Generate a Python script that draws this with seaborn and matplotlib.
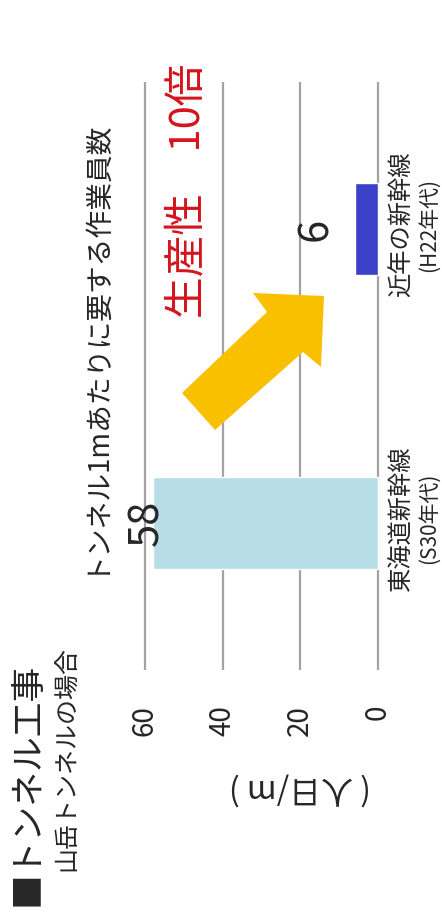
import matplotlib
matplotlib.use('Agg')
import matplotlib.pyplot as plt
from matplotlib.patches import Polygon
from matplotlib.transforms import blended_transform_factory
import pandas as pd
import seaborn as sns

# data (bottom to top in the rotated picture)
categories = ['東海道新幹線', '近年の新幹線']
eras = ['(S30年代)', '(H22年代)']
workers = [58, 6]
bar_colors = ['#b7dee6', '#3a40c8']
x_ticks = [0, 20, 40, 60]

sns.set_style('white')
plt.rcParams['font.family'] = ['Noto Sans CJK JP', 'DejaVu Sans']

df = pd.DataFrame({'cat': categories, 'val': workers})

fig = plt.figure(figsize=(4.42, 9.21), dpi=100)
ax = fig.add_axes([0.3192, 0.2725, 0.5449, 0.6384])

sns.barplot(data=df, x='val', y='cat', hue='cat', palette=bar_colors,
            orient='h', width=0.313, legend=False, saturation=1, ax=ax)

ax.set_xlim(61, -1)
ax.set_ylim(-0.5, 1.5)
ax.set_xticks(x_ticks)
ax.set_xticklabels([str(t) for t in x_ticks])
ax.set_yticks([])
ax.set_xlabel('')
ax.set_ylabel('')
ax.tick_params(axis='x', length=0, labelsize=20, labelrotation=90, pad=25)
for s in ax.spines.values():
    s.set_visible(False)
ax.xaxis.grid(True, color='#a3a3a3', linewidth=1.6)
ax.set_axisbelow(True)

# value labels
label_offsets = [-4.5, -28]
for i, (v, dx) in enumerate(zip(workers, label_offsets)):
    ax.annotate(str(v), xy=(v, i), xytext=(dx, 0), textcoords='offset points',
                rotation=90, ha='center', va='center', fontsize=30)

# category labels on the right side
tr = blended_transform_factory(fig.transFigure, ax.transData)
for i, (c, e) in enumerate(zip(categories, eras)):
    fig.text(402 / 442, i + 0.015, c, transform=tr, rotation=90, ha='center',
             va='center', fontsize=17.5)
    fig.text(429 / 442, i + 0.015, e, transform=tr, rotation=90, ha='center',
             va='center', fontsize=15)

# axis unit label (upside down, as in the rotated original)
fig.text(300 / 442, 1 - 789 / 921, '( 人日/m )', rotation=180, ha='center',
         va='center', fontsize=23)

# titles
fig.text(93 / 442, 1 - 345 / 921, 'トンネル1mあたりに要する作業員数', rotation=90,
         ha='center', va='center', fontsize=20)
fig.text(188 / 442, 1 - 191 / 921, '生産性　10倍', rotation=90, ha='center',
         va='center', fontsize=30, color='#d4141c')
fig.text(28 / 442, 1 - 784 / 921, '■トンネル工事', rotation=90, ha='center',
         va='center', fontsize=25)
fig.text(67 / 442, 1 - 758 / 921, '山岳トンネルの場合', rotation=90, ha='center',
         va='center', fontsize=18)

# yellow arrow
arrow_px = [(182, 393), (267, 312), (253, 293), (324, 296),
            (321, 367), (303, 352), (215, 430)]
arrow = Polygon([(x / 442, 1 - y / 921) for x, y in arrow_px], closed=True,
                transform=fig.transFigure, facecolor='#f9c000',
                edgecolor='none', zorder=5)
fig.patches.append(arrow)

fig.savefig('out.png', dpi=100)
